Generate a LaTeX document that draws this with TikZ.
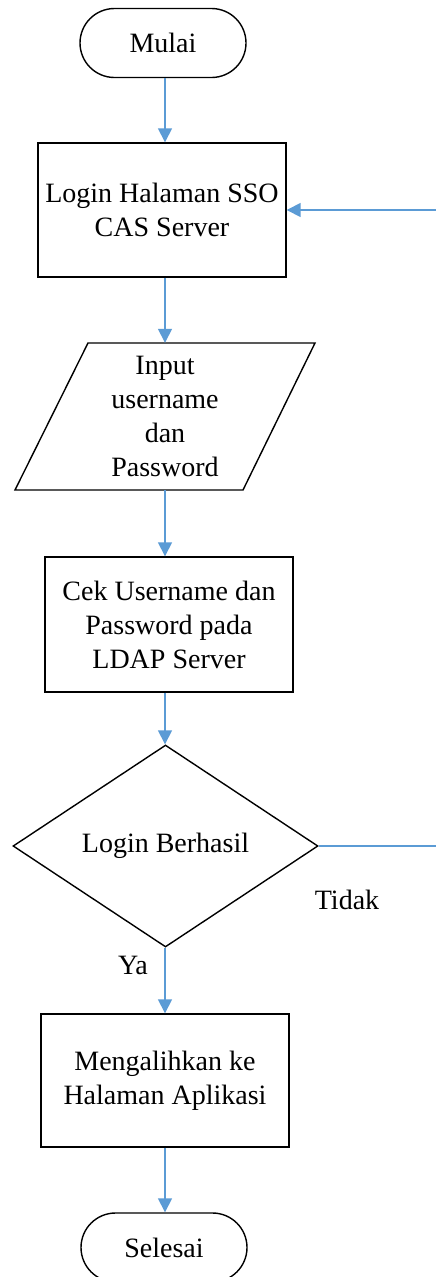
\documentclass[tikz,border=0pt]{standalone}
\usepackage{fontspec}
\setmainfont{Liberation Serif}
\usetikzlibrary{shapes.geometric,shapes.misc,arrows.meta,calc}
\definecolor{flowblue}{RGB}{91,155,213}
\begin{document}
\begin{tikzpicture}[x=1pt,y=-1pt,
  every node/.style={font=\fontsize{28}{34}\selectfont, align=center, inner sep=0pt},
  term/.style={draw=black, line width=1.4pt, rounded rectangle, minimum width=166pt, minimum height=69pt},
  procbox/.style={draw=black, line width=1.4pt, rectangle, minimum width=248pt, minimum height=134pt},
  ioarea/.style={rectangle, minimum width=150pt, minimum height=147pt},
  decide/.style={draw=black, line width=1.4pt, diamond, minimum width=305pt, minimum height=202pt},
  lbl/.style={font=\fontsize{28}{34}\selectfont},
  arr/.style={draw=flowblue, line width=1.5pt, -{Triangle[length=14pt,width=14pt]}},
  plain/.style={draw=flowblue, line width=1.5pt}
]
\useasboundingbox[fill=white] (0,0) rectangle (436,1277);
\coordinate (col) at (165,0);

\node[term] (start) at (163,43) {Mulai};
\node[procbox] (login) at (162,210) {Login Halaman SSO\\CAS Server};
\node[ioarea] (inp) at (165,416.5) {Input\\username\\dan\\Password};
\draw[line width=1.4pt] (88,343) -- (315,343) -- (243,490) -- (15,490) -- cycle;
\node[procbox, minimum height=135pt] (cek) at (169,624.5) {Cek Username dan\\Password pada\\LDAP Server};
\node[decide] (dec) at (165.5,846) {Login Berhasil};
\node[procbox, minimum height=133pt] (meng) at (165,1080.5) {Mengalihkan ke\\Halaman Aplikasi};
\node[term] (stop) at (164,1247.5) {Selesai};

\node[lbl] (tidak) at (347,900) {Tidak};
\node[lbl] (ya) at (133,965) {Ya};

\coordinate (rt) at (438,846);

\draw[arr] (start.south -| col) -- (login.north -| col);
\draw[arr] (login.south -| col) -- (inp.north -| col);
\draw[arr] (inp.south -| col) -- (cek.north -| col);
\draw[arr] (cek.south -| col) -- (dec.north -| col);
\draw[arr] (dec.south -| col) -- (meng.north -| col);
\draw[arr] (meng.south -| col) -- (stop.north -| col);
\draw[arr] (dec.east) -- (rt) |- (login.east);
\end{tikzpicture}
\end{document}
